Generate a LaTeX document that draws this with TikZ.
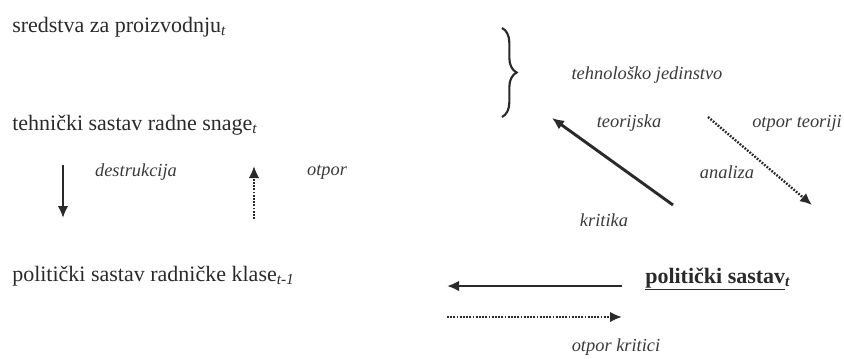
\documentclass[tikz,border=0pt]{standalone}
\usepackage{fontspec}
\setmainfont{Liberation Serif}
\usetikzlibrary{arrows.meta,decorations.pathreplacing}
\definecolor{ink}{HTML}{2A2A2A}
\definecolor{lab}{HTML}{3A3A3A}
\tikzset{
  main/.style={anchor=base west, inner sep=0pt, text=ink, font=\fontsize{16.5}{18}\selectfont},
  lbl/.style={anchor=center, inner sep=0pt, text=lab, font=\fontsize{13.8}{15}\selectfont\itshape},
  solidarr/.style={draw=ink, line width=2.2pt, -{Latex[length=9pt,width=8pt]}},
  dotarr/.style={draw=ink, line width=1.8pt, dash pattern=on 1.3pt off 1.1pt, -{Latex[length=9pt,width=8pt]}}
}
\begin{document}
\begin{tikzpicture}[x=0.75pt,y=-0.75pt]
\useasboundingbox (0,0) rectangle (844,358);
% left texts
\node[main] (sred) at (12,32) {sredstva za proizvodnju\textsubscript{\textit{t}}};
\node[main] (teh) at (12,130) {tehnički sastav radne snage\textsubscript{\textit{t}}};
\node[main] (pol) at (12,281) {politički sastav radničke klase\textsubscript{\textit{t-1}}};
\node[lbl] (destr) at (136,172) {destrukcija};
\node[lbl] (otpor) at (327,172) {otpor};
% vertical arrows
\coordinate (d1) at (63,165);
\coordinate (d2) at (63,218);
\coordinate (u1) at (254,219);
\coordinate (u2) at (254,166);
\draw[solidarr] (d1) -- (d2);
\draw[dotarr] (u1) -- (u2);
% brace
\coordinate (b1) at (502,28);
\coordinate (b2) at (502,117);
\draw[draw=ink, line width=1.6pt, decorate, decoration={brace, amplitude=11pt}] (b1) -- (b2);
\node[lbl] (tj) at (647,75) {tehnološko jedinstvo};
\node[lbl] (teor) at (629,123) {teorijska};
\node[lbl] (ot) at (797,123) {otpor teoriji};
\node[lbl] (anal) at (727,172) {analiza};
\node[lbl] (krit) at (604,220) {kritika};
% diagonal arrows
\coordinate (k1) at (673,205);
\coordinate (k2) at (552,118);
\coordinate (a1) at (708,117);
\coordinate (a2) at (812,205);
\draw[solidarr] (k1) -- (k2);
\draw[dotarr] (a1) -- (a2);
% politicki sastav
\node[main, font=\fontsize{16.5}{18}\selectfont\bfseries] (ps) at (645,283) {\underline{politički sastav}\textsubscript{\textit{t}}};
\coordinate (h1) at (622,286);
\coordinate (h2) at (447,286);
\coordinate (g1) at (447,317);
\coordinate (g2) at (622,317);
\draw[solidarr] (h1) -- (h2);
\draw[dotarr] (g1) -- (g2);
\node[lbl] (okr) at (616,347) {otpor kritici};
\end{tikzpicture}
\end{document}
